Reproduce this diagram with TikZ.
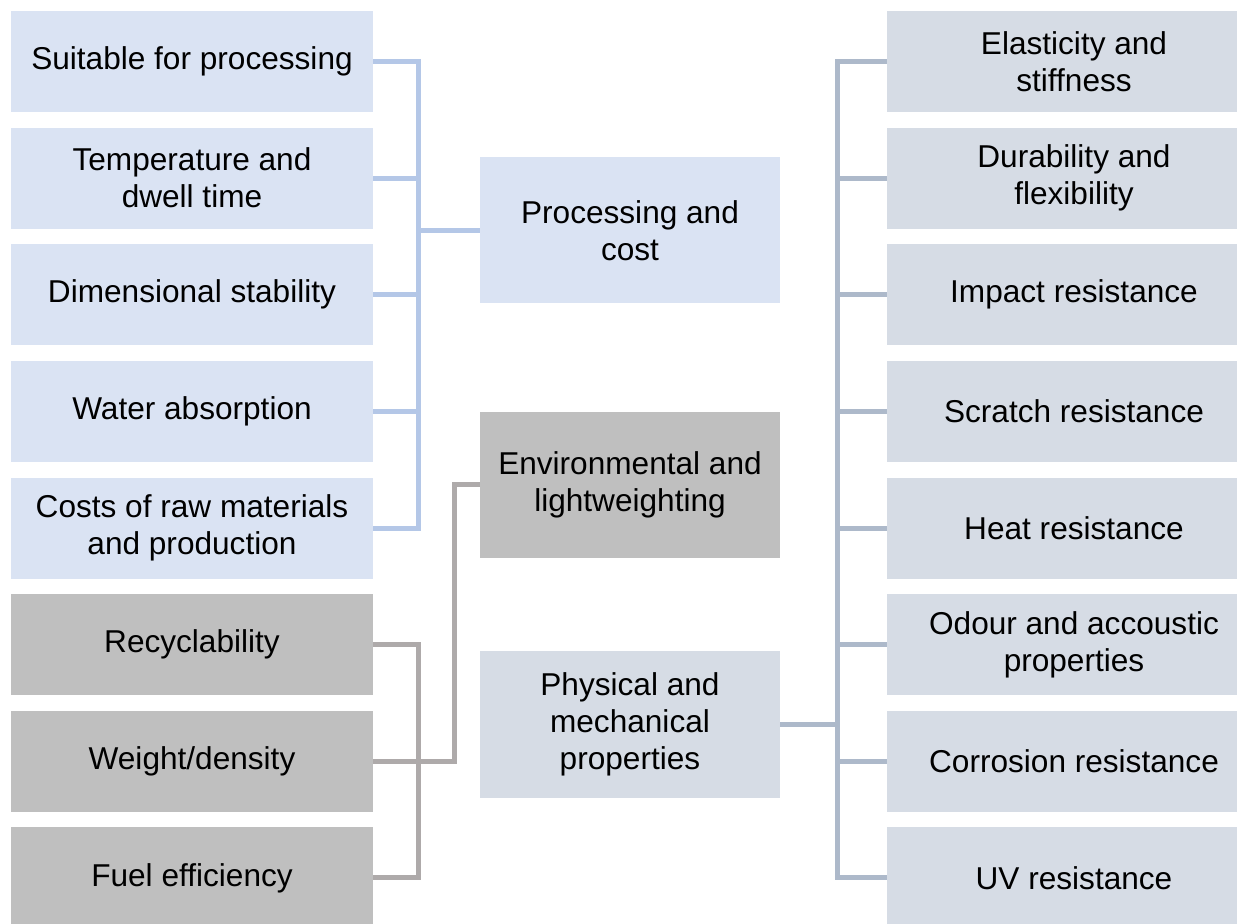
\documentclass[tikz,border=0pt]{standalone}
\usepackage{fontspec}
\setmainfont{Liberation Sans}
\usepackage{xcolor}
\usepackage{tikz}
\usetikzlibrary{positioning, calc}
\definecolor{procfill}{HTML}{DAE3F3}
\definecolor{envfill}{HTML}{BFBFBF}
\definecolor{physfill}{HTML}{D6DCE5}
\definecolor{procline}{HTML}{B4C7E7}
\definecolor{envline}{HTML}{AEAAAA}
\definecolor{physline}{HTML}{ADB9CA}
\tikzstyle{leftitem} = [rectangle, minimum width=181pt, minimum height=50.5pt, text centered, align=center, inner sep=0pt]
\tikzstyle{procitem} = [leftitem, fill=procfill]
\tikzstyle{envitem} = [leftitem, fill=envfill]
\tikzstyle{physitem} = [rectangle, minimum width=187pt, minimum height=50.5pt, text centered, align=center, inner sep=0pt, fill=physfill]
\tikzstyle{group} = [rectangle, minimum width=150pt, minimum height=73pt, text centered, align=center, inner sep=0pt]
\tikzstyle{procwire} = [line width=2.5pt, draw=procline]
\tikzstyle{envwire} = [line width=2.5pt, draw=envline]
\tikzstyle{physwire} = [line width=2.5pt, draw=physline]

\begin{document}
\begin{tikzpicture}[x=0.5pt, y=-0.5pt, node distance=7.42pt, font=\fontsize{15.8}{18.5}\selectfont]
    \useasboundingbox (0,0) rectangle (1237,924);
    % left column
    \node (suit) [procitem] at (192,61.5) {Suitable for processing};
    \node (temp) [procitem, below=of suit] {Temperature and\\dwell time};
    \node (dimen) [procitem, below=of temp] {Dimensional stability};
    \node (water) [procitem, below=of dimen] {Water absorption};
    \node (cost) [procitem, below=of water] {Costs of raw materials\\and production};
    \node (recyc) [envitem, below=of cost] {Recyclability};
    \node (weight) [envitem, below=of recyc] {Weight/density};
    \node (fuel) [envitem, below=of weight] {Fuel efficiency};

    % middle column
    \node (proc) [group, fill=procfill] at (630,230.5) {Processing and\\cost};
    \node (env) [group, fill=envfill] at (630,485) {Environmental and\\lightweighting};
    \node (phys) [group, fill=physfill] at (630,724.5) {Physical and\\mechanical\\properties};

    % right column
    \node (elast) [physitem] at (1074,61.5) {Elasticity and\\stiffness};
    \node (durab) [physitem, below=of elast] {Durability and\\flexibility};
    \node (impact) [physitem, below=of durab] {Impact resistance};
    \node (scratch) [physitem, below=of impact] {Scratch resistance};
    \node (heat) [physitem, below=of scratch] {Heat resistance};
    \node (odour) [physitem, below=of heat] {Odour and accoustic\\properties};
    \node (corr) [physitem, below=of odour] {Corrosion resistance};
    \node (uv) [physitem, below=of corr] {UV resistance};

    \coordinate (lbus) at (418,0);
    \coordinate (rbus) at (837,0);

    % processing and cost
    \draw [procwire] (suit.east) -- (suit.east -| lbus) -- (cost.east -| lbus) -- (cost.east);
    \draw [procwire] (temp.east) -- (temp.east -| lbus);
    \draw [procwire] (dimen.east) -- (dimen.east -| lbus);
    \draw [procwire] (water.east) -- (water.east -| lbus);
    \draw [procwire] (proc.west) -- (proc.west -| lbus);

    % environmental and lightweighting
    \draw [envwire] (recyc.east) -- (recyc.east -| lbus) -- (fuel.east -| lbus) -- (fuel.east);
    \draw [envwire] (weight.east) -| ([xshift=-12.5pt]env.west) -- (env.west);

    % physical and mechanical properties
    \draw [physwire] (elast.west) -- (elast.west -| rbus) -- (uv.west -| rbus) -- (uv.west);
    \draw [physwire] (durab.west) -- (durab.west -| rbus);
    \draw [physwire] (impact.west) -- (impact.west -| rbus);
    \draw [physwire] (scratch.west) -- (scratch.west -| rbus);
    \draw [physwire] (heat.west) -- (heat.west -| rbus);
    \draw [physwire] (odour.west) -- (odour.west -| rbus);
    \draw [physwire] (corr.west) -- (corr.west -| rbus);
    \draw [physwire] (phys.east) -- (phys.east -| rbus);
\end{tikzpicture}
\end{document}
